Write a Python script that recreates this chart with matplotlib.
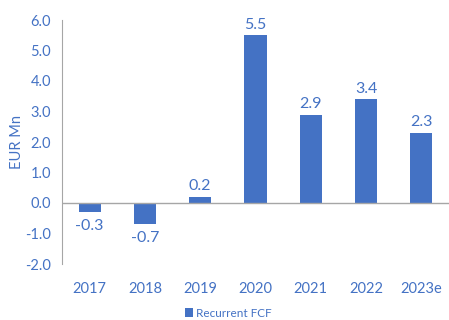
import matplotlib
matplotlib.use("Agg")
import matplotlib.pyplot as plt

years = ['2017', '2018', '2019', '2020', '2021', '2022', '2023e']
fcf = [-0.3, -0.7, 0.2, 5.5, 2.9, 3.4, 2.3]

blue = '#4472C4'
grey = '#a6a6a6'
plt.rcParams['font.family'] = ['Lato', 'DejaVu Sans']

fig = plt.figure(figsize=(4.49, 3.2), dpi=100)
ax = fig.add_axes([0.138, 0.175, 0.862, 0.7625])

x = range(len(years))
ax.bar(x, fcf, width=0.4, color=blue, label='Recurrent FCF')

# data labels above positive bars, below negative ones
for i, v in zip(x, fcf):
    if v >= 0:
        ax.text(i, v + 0.12, f'{v:.1f}', ha='center', va='bottom', color=blue, fontsize=11.5)
    else:
        ax.text(i, v - 0.22, f'{v:.1f}', ha='center', va='top', color=blue, fontsize=11.5)

ax.set_xlim(-0.5, len(years) - 0.5)
ax.set_ylim(-2, 6)
ax.set_yticks([-2, -1, 0, 1, 2, 3, 4, 5, 6])
ax.set_yticklabels([f'{t:.1f}' for t in ax.get_yticks()])
ax.set_xticks(list(x))
ax.set_xticklabels(years)
ax.tick_params(colors=blue, labelsize=10.5, length=0)
ax.tick_params(axis='x', pad=13)
ax.tick_params(axis='y', pad=8)
ax.axhline(0, color=grey, lw=1)

for s in ['top', 'right', 'bottom']:
    ax.spines[s].set_visible(False)
ax.spines['left'].set_color(grey)

ax.set_ylabel('EUR Mn', color=blue, fontsize=10.5, labelpad=1)

ax.legend(loc='upper center', bbox_to_anchor=(0.43, -0.135), frameon=False,
          fontsize=8.5, labelcolor=blue, handlelength=0.7, handleheight=0.7,
          handletextpad=0.3)

fig.savefig('out.png', dpi=100)
